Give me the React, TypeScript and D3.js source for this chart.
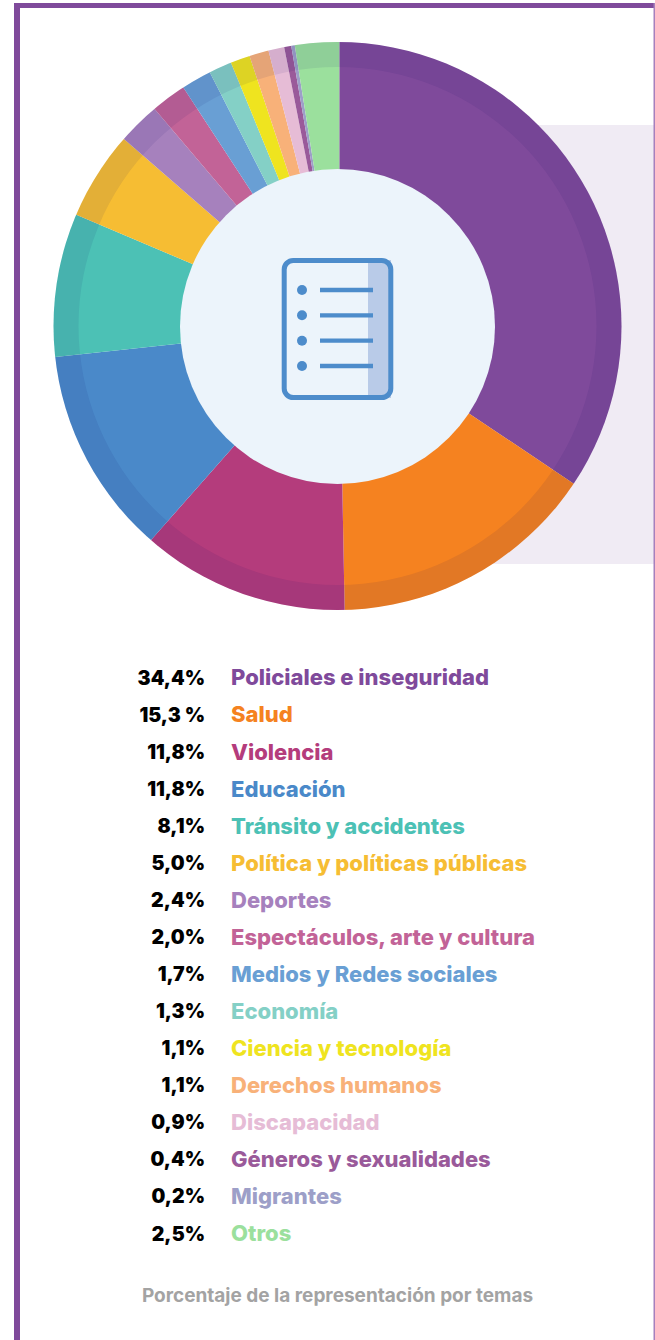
import * as d3 from 'd3';

const width = 655;
const height = 1340;

const categories = [
  'Policiales e inseguridad', 'Salud', 'Violencia', 'Educación', 'Tránsito y accidentes',
  'Política y políticas públicas', 'Deportes', 'Espectáculos, arte y cultura',
  'Medios y Redes sociales', 'Economía', 'Ciencia y tecnología', 'Derechos humanos',
  'Discapacidad', 'Géneros y sexualidades', 'Migrantes', 'Otros',
];
const values = [34.4, 15.3, 11.8, 11.8, 8.1, 5.0, 2.4, 2.0, 1.7, 1.3, 1.1, 1.1, 0.9, 0.4, 0.2, 2.5];
const valueLabels = [
  '34,4%', '15,3 %', '11,8%', '11,8%', '8,1%', '5,0%', '2,4%', '2,0%',
  '1,7%', '1,3%', '1,1%', '1,1%', '0,9%', '0,4%', '0,2%', '2,5%',
];
const colors = [
  '#7f4a9b', '#f58220', '#b43c7c', '#4a89c9', '#4cc1b5', '#f6bd33', '#a681bd', '#c26397',
  '#699fd4', '#84d0c6', '#efe41f', '#f8b179', '#e6bcd6', '#9a5a9a', '#9d9fc8', '#9be09d',
];
const iconRows = ['a', 'b', 'c', 'd'];

const cx = 337.5;
const cy = 326;
const outerR = 284;
const ringR = 259;
const holeR = 157.5;
const font = 'Inter, sans-serif';

export default function App() {
  const pie = d3.pie<number>().sort(null).value(d => d);
  const slices = pie(values);

  // las porciones estan apenas corridas respecto del circulo, se recortan con el clip
  const sliceArc = d3.arc<d3.PieArcDatum<number>>().innerRadius(holeR - 5).outerRadius(outerR + 5);
  const ringArc = d3.arc()({ innerRadius: ringR, outerRadius: outerR, startAngle: 0, endAngle: 2 * Math.PI }) ?? '';

  const rowY = d3.scalePoint<string>().domain(categories).range([677.5, 1233.5]);
  const iconY = d3.scalePoint<string>().domain(iconRows).range([290, 366]);

  return (
    <svg width={width} height={height} style={{ position: 'absolute', left: 0, top: 0, display: 'block' }}>
      <defs>
        <clipPath id="disc">
          <circle cx={cx} cy={cy} r={outerR} />
        </clipPath>
      </defs>
      <rect width={width} height={height} fill="#fff" />
      <rect x={440} y={125} width={215} height={439} fill="#f0ebf4" />

      {/* marco */}
      <rect x={14} y={3} width={6} height={height} fill="#7f4a9b" />
      <rect x={14} y={3} width={641} height={5} fill="#7f4a9b" />
      <rect x={653.5} y={3} width={1.5} height={height} fill="#a680bd" />

      <g clipPath="url(#disc)">
        <g transform={`translate(${cx + 1.8},${cy + 0.5})`}>
          {slices.map((s, i) => (
            <path key={i} d={sliceArc(s) ?? ''} fill={colors[i]} />
          ))}
        </g>
      </g>
      <g transform={`translate(${cx},${cy})`}>
        {/* anillo exterior un poco mas oscuro */}
        <path d={ringArc} fill="#10106a" fillOpacity={0.08} />
        <circle cy={0.5} r={holeR} fill="#ecf4fb" />
      </g>

      {/* icono central */}
      <rect x={368} y={260} width={23} height={138} fill="#b9cbe8" />
      <rect x={284.2} y={260.5} width={106.6} height={137} rx={9} fill="none" stroke="#4d8ccb" strokeWidth={5} />
      {iconRows.map(r => (
        <g key={r}>
          <circle cx={302} cy={iconY(r)} r={5} fill="#4d8ccb" />
          <line x1={320} x2={373} y1={iconY(r)} y2={iconY(r)} stroke="#4d8ccb" strokeWidth={4.4} />
        </g>
      ))}

      {/* leyenda */}
      <g fontFamily={font}>
        {categories.map((c, i) => (
          <g key={c}>
            <text x={205} y={rowY(c)} dy="0.36em" textAnchor="end" fontSize={19.5} fontWeight={900} fill="#000">{valueLabels[i]}</text>
            <text x={231} y={rowY(c)} dy="0.36em" fontSize={22} fontWeight={800} fill={colors[i]}>{c}</text>
          </g>
        ))}
      </g>
      <text x={337.5} y={1295} dy="0.36em" textAnchor="middle" fontFamily={font} fontWeight={700} fontSize={19} fill="#a3a3a3">
        Porcentaje de la representación por temas
      </text>
    </svg>
  );
}
